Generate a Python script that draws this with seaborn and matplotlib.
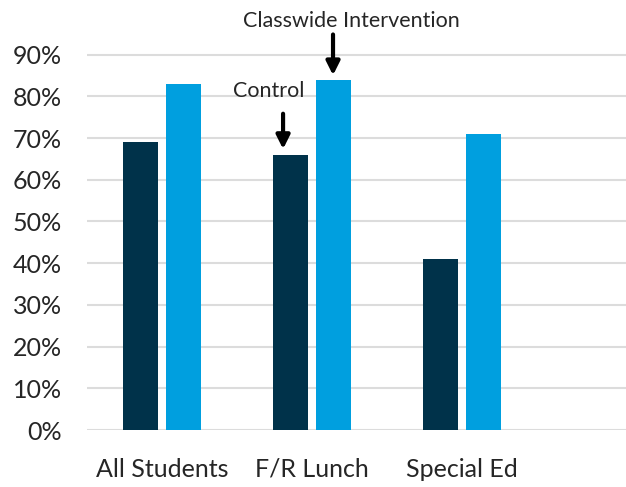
import pandas as pd
import matplotlib
matplotlib.use("Agg")
import matplotlib.pyplot as plt
import seaborn as sns

groups = ["All Students", "F/R Lunch", "Special Ed"]
control = [69, 66, 41]
classwide = [83, 84, 71]
series = ["Control", "Classwide Intervention"]

df = pd.DataFrame({
    "group": groups * 2,
    "pct": control + classwide,
    "series": [series[0]] * 3 + [series[1]] * 3,
})

sns.set_style("white")
plt.rcParams["font.family"] = ["Lato", "DejaVu Sans"]

fig = plt.figure(figsize=(6.26, 4.87), dpi=100)
ax = fig.add_axes([87 / 626, 57 / 487, 1 - 87 / 626, 430 / 487])

sns.barplot(data=df, x="group", y="pct", hue="series", hue_order=series,
            palette=["#00324A", "#009FDF"], width=0.573, gap=0.2,
            saturation=1, legend=False, linewidth=0, ax=ax)

ax.set_xlim(-0.5, 3.093)
ax.set_ylim(0, 103.1)
ax.set_yticks(range(0, 100, 10))
ax.set_yticklabels([f"{v}%" for v in range(0, 100, 10)], fontsize=18)
ax.tick_params(axis="x", labelsize=18, length=0, pad=20)
ax.tick_params(axis="y", length=0, pad=18)
ax.set_xlabel("")
ax.set_ylabel("")
ax.yaxis.grid(True, color="#DCDCDC", lw=1.5)
ax.set_axisbelow(True)
for s in ax.spines.values():
    s.set_visible(False)

# arrow callouts
arrow = dict(arrowstyle="-|>", lw=3, color="black", mutation_scale=20)
ax.annotate("", xy=(0.807, 66.7), xytext=(0.807, 76.5), arrowprops=arrow)
ax.text(0.713, 79.9, "Control", ha="center", va="baseline", fontsize=15.5)
ax.annotate("", xy=(1.14, 84.4), xytext=(1.14, 95.5), arrowprops=arrow)
ax.text(1.26, 96.6, "Classwide Intervention", ha="center", va="baseline", fontsize=15.5)

fig.savefig("out.png", dpi=100)
